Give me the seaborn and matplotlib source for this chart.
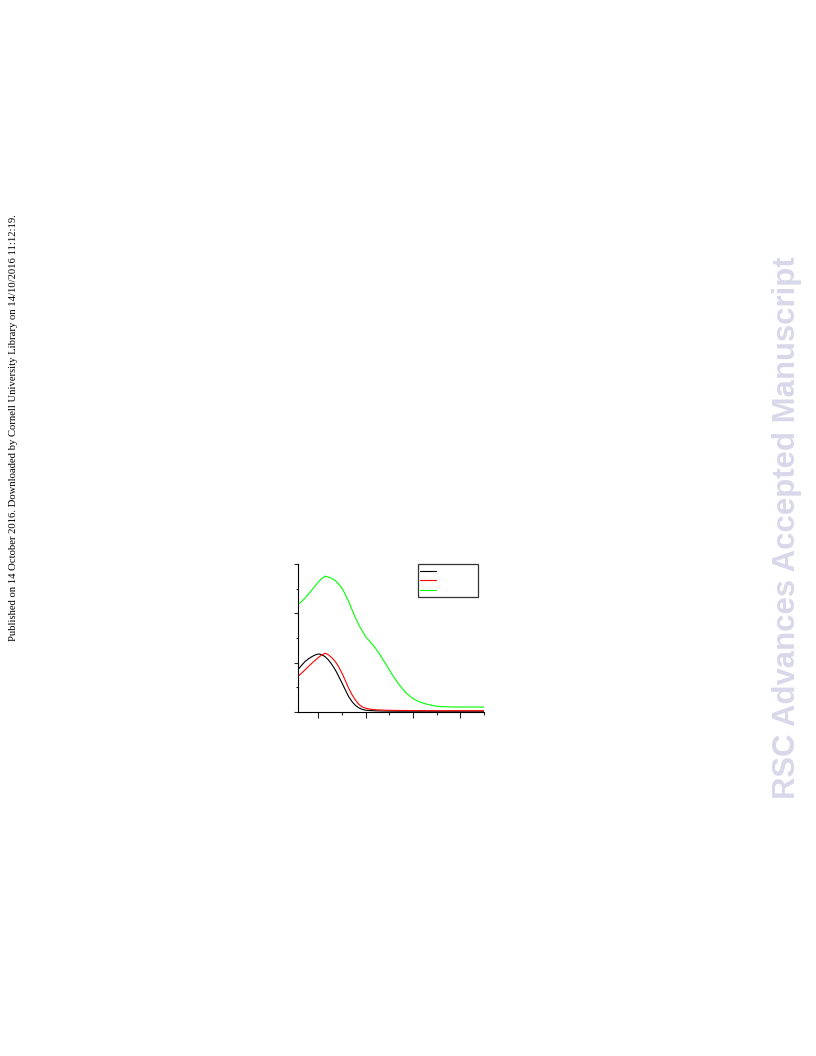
import matplotlib
matplotlib.use("Agg")
import matplotlib.pyplot as plt
import seaborn as sns
import pandas as pd
import numpy as np
from matplotlib.ticker import MultipleLocator

# ---- data (arbitrary units) ----
x_vals = [0.574, 0.65, 0.72, 0.79, 0.86, 0.93, 1.0, 1.07, 1.14, 1.21, 1.28, 1.36,
          1.43, 1.5, 1.57, 1.64, 1.71, 1.78, 1.85, 1.92, 2.0, 2.1, 2.2, 2.3, 2.42,
          2.55, 2.7, 2.85, 3.0, 3.15, 3.3, 3.5, 3.7, 3.9, 4.1, 4.3, 4.5]
black_vals = [1.73, 1.90, 2.05, 2.15, 2.24, 2.31, 2.35, 2.32, 2.24, 2.11, 1.93, 1.69,
              1.43, 1.16, 0.88, 0.61, 0.41, 0.26, 0.16, 0.10, 0.06, 0.045, 0.035, 0.03, 0.025,
              0.022, 0.02, 0.02, 0.02, 0.02, 0.02, 0.02, 0.02, 0.02, 0.02, 0.02, 0.02]
red_vals = [1.45, 1.58, 1.71, 1.84, 1.97, 2.09, 2.21, 2.31, 2.38, 2.32, 2.20, 2.03,
            1.82, 1.56, 1.26, 0.95, 0.69, 0.48, 0.31, 0.20, 0.14, 0.10, 0.08, 0.07, 0.06,
            0.055, 0.05, 0.05, 0.045, 0.045, 0.04, 0.04, 0.04, 0.04, 0.04, 0.04, 0.04]
green_vals = [4.37, 4.50, 4.63, 4.79, 4.95, 5.12, 5.29, 5.42, 5.52, 5.48, 5.43, 5.33,
              5.19, 5.02, 4.76, 4.48, 4.15, 3.83, 3.55, 3.30, 3.05, 2.83, 2.60, 2.32, 1.95,
              1.54, 1.11, 0.77, 0.53, 0.39, 0.30, 0.22, 0.20, 0.19, 0.19, 0.19, 0.19]
series_names = ["black", "red", "green"]
series_colors = ["#000000", "#ff0000", "#00ff00"]

sns.set_style("ticks")
plt.rcParams['font.family'] = ['DejaVu Sans']

df = pd.DataFrame({
    "x": x_vals * 3,
    "y": black_vals + red_vals + green_vals,
    "series": [series_names[0]] * len(x_vals) + [series_names[1]] * len(x_vals)
              + [series_names[2]] * len(x_vals),
})

fig = plt.figure(figsize=(8.16, 10.56), dpi=100)
ax = fig.add_axes([298.3 / 816, 1 - 711.7 / 1056, (484 - 298.3) / 816, (711.7 - 564.3) / 1056])

sns.lineplot(data=df, x="x", y="y", hue="series", hue_order=series_names,
             palette=dict(zip(series_names, series_colors)), ax=ax,
             linewidth=0.8, legend=False, sort=False, estimator=None)

ax.set_xlim(0.574, 4.5)
ax.set_ylim(0, 6)
ax.xaxis.set_major_locator(MultipleLocator(1.0))
ax.xaxis.set_minor_locator(MultipleLocator(0.5))
ax.yaxis.set_major_locator(MultipleLocator(2.0))
ax.yaxis.set_minor_locator(MultipleLocator(1.0))
ax.tick_params(axis="x", which="major", length=4, width=0.8, labelbottom=False, direction="out")
ax.tick_params(axis="x", which="minor", length=2, width=0.8, direction="out")
ax.tick_params(axis="y", which="major", length=3, width=0.8, labelleft=False, direction="out")
ax.tick_params(axis="y", which="minor", length=1.5, width=0.8, direction="out")
ax.set_xlabel("")
ax.set_ylabel("")
for s in ["top", "right"]:
    ax.spines[s].set_visible(False)
for s in ["left", "bottom"]:
    ax.spines[s].set_linewidth(0.8)
    ax.spines[s].set_color("black")
ax.set_facecolor("none")

handles = ax.get_lines()[:3]
leg = ax.legend(handles, ["", "", ""], loc="upper left",
                bbox_to_anchor=((417.7 - 298.3) / (484 - 298.3), 1.0),
                prop={"size": 6}, handlelength=1.95, handletextpad=4.7,
                borderpad=0.3, labelspacing=0.05, frameon=True, fancybox=False,
                borderaxespad=0.0)
leg.get_frame().set_edgecolor("black")
leg.get_frame().set_linewidth(0.9)

fig.text(13.5 / 816, 1 - 427.5 / 1056,
         "Published on 14 October 2016. Downloaded by Cornell University Library on 14/10/2016 11:12:19.",
         rotation=90, ha="center", va="center", fontsize=7.65,
         family=["Liberation Serif", "DejaVu Serif"], color="black")

fig.text(787.5 / 816, 1 - 527.5 / 1056, "RSC Advances Accepted Manuscript",
         rotation=90, ha="center", va="center", fontsize=22.4, fontweight="bold",
         family=["Liberation Sans", "DejaVu Sans"], color="#d8d8ea")

fig.savefig("out.png", dpi=100)
